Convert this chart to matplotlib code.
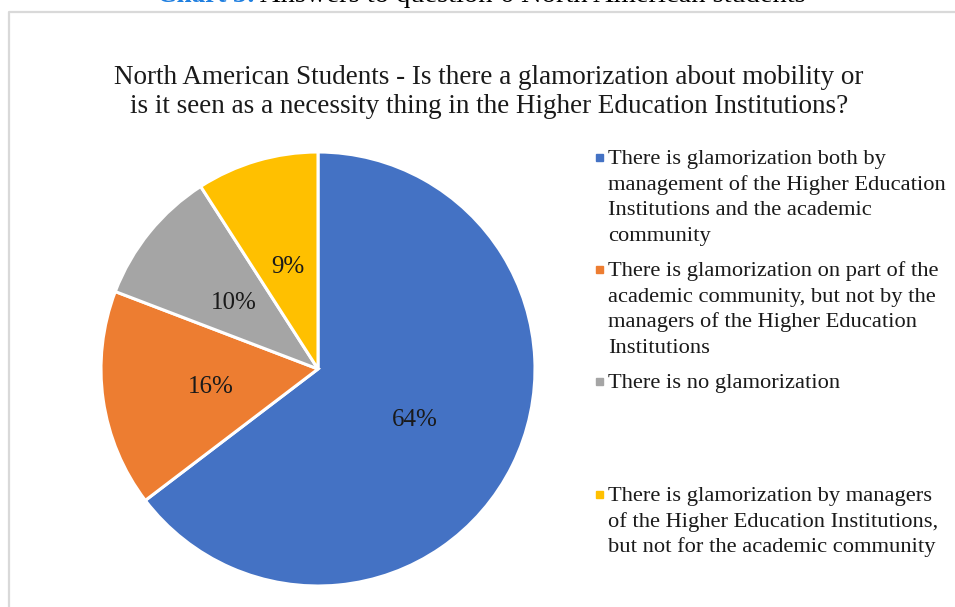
import matplotlib
matplotlib.use("Agg")
import matplotlib.pyplot as plt
from matplotlib.lines import Line2D
from matplotlib.patches import Rectangle

plt.rcParams['font.family'] = ['Liberation Serif', 'DejaVu Serif']

# ---- data ----
caption_tag = "Chart 3:"
caption_text = "Answers to question 6 North American students"
title_lines = [
    "North American Students - Is there a glamorization about mobility or",
    "is it seen as a necessity thing in the Higher Education Institutions?",
]
categories = [
    "There is glamorization both by\nmanagement of the Higher Education\nInstitutions and the academic\ncommunity",
    "There is glamorization on part of the\nacademic community, but not by the\nmanagers of the Higher Education\nInstitutions",
    "There is no glamorization",
    "There is glamorization by managers\nof the Higher Education Institutions,\nbut not for the academic community",
]
values = [64, 16, 10, 9]
colors = ["#4472C4", "#ED7D31", "#A5A5A5", "#FFC000"]

W, H = 955, 607
fig = plt.figure(figsize=(W / 100, H / 100), dpi=100)


def fx(px):
    return px / W


def fy(py):
    return 1 - py / H


# chart frame
fig.add_artist(Line2D([fx(9), fx(9), fx(W + 5)], [fy(H + 5), fy(12), fy(12)],
                      color="#D9D9D9", lw=1.6, transform=fig.transFigure))

# caption above the frame
fig.text(fx(255), fy(1.5), caption_tag, color="#1F7FE0", fontsize=19.5,
         fontweight="bold", ha="right", va="baseline")
fig.text(fx(260), fy(1.5), caption_text, color="black", fontsize=20.5,
         ha="left", va="baseline")

# title
for i, line in enumerate(title_lines):
    fig.text(fx(489), fy(84 + 29 * i), line, fontsize=19.5, ha="center",
             va="baseline", color="#1a1a1a")

# pie
cx, cy, r = 318, 369, 217
ax = fig.add_axes([fx(cx - r), fy(cy + r), (2 * r) / W, (2 * r) / H])
total = sum(values)
wedges, texts, autotexts = ax.pie(
    values, colors=colors, startangle=90, counterclock=False, radius=1,
    wedgeprops=dict(edgecolor="white", linewidth=2.2),
    autopct=lambda p: f"{p * total / 100:.0f}%", pctdistance=0.5,
    textprops=dict(fontsize=18, color="#1a1a1a"))
for t in autotexts:
    t.set_verticalalignment("center_baseline")
ax.set_xlim(-1, 1)
ax.set_ylim(-1, 1)
ax.set_aspect("equal")
ax.axis("off")

# legend
entry_first_baseline = [164, 276, 388, 501]
line_step = 25.7
for lab, col, b0 in zip(categories, colors, entry_first_baseline):
    fig.add_artist(Rectangle((fx(596), fy(b0 - 3)), 7 / W, 7 / H, color=col,
                             transform=fig.transFigure))
    for j, line in enumerate(lab.split("\n")):
        fig.text(fx(608), fy(b0 + j * line_step), line, fontsize=16.2,
                 ha="left", va="baseline", color="#1a1a1a")

fig.savefig("out.png", dpi=100)
